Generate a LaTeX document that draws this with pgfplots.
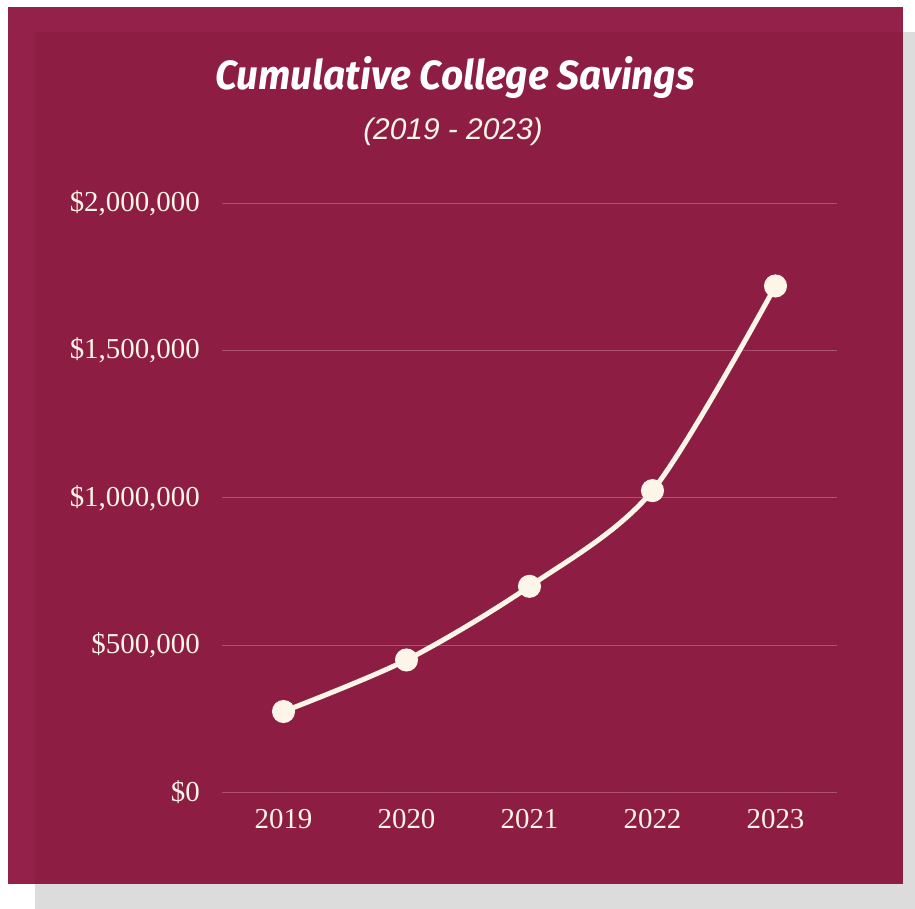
\documentclass[border=0pt]{standalone}
\usepackage{fontspec}
\setmainfont{Liberation Serif}
\newfontfamily\subfont{Liberation Sans}
\newfontfamily\titlefont{Fira Sans}
\usepackage{graphicx}
\usepackage{pgfplots}
\pgfplotsset{compat=1.18}

\definecolor{outerbg}{RGB}{147,33,73}
\definecolor{innerbg}{RGB}{141,29,67}
\definecolor{shadowgray}{RGB}{220,220,220}
\definecolor{cream}{RGB}{253,245,232}
\definecolor{gridc}{RGB}{170,82,114}

\begin{document}
\begin{tikzpicture}
% page, card shadow and card
\fill[white] (0bp,0bp) rectangle (915bp,909bp);
\fill[shadowgray] (35bp,0bp) rectangle (915bp,877bp);
\fill[outerbg] (8bp,25bp) rectangle (903bp,902bp);
\fill[innerbg] (35bp,25bp) rectangle (903bp,877bp);

% title and subtitle
\node[anchor=base, inner sep=0, text=white] at (455bp,819bp)
  {\resizebox{479bp}{33bp}{\titlefont\bfseries\itshape\fontsize{40}{46}\selectfont Cumulative College Savings}};
\node[anchor=base, inner sep=0, text=cream] at (453bp,769bp)
  {\subfont\itshape\fontsize{30}{34}\selectfont (2019 - 2023)};

\begin{axis}[
  at={(222bp,116.5bp)}, anchor=south west,
  scale only axis, width=615bp, height=589bp,
  xmin=-0.5, xmax=4.5, ymin=0, ymax=2000000,
  xtick={0,1,2,3,4},
  xticklabels={2019,2020,2021,2022,2023},
  ytick={0,500000,1000000,1500000,2000000},
  yticklabels={{\$0},{\$500,000},{\$1,000,000},{\$1,500,000},{\$2,000,000}},
  scaled y ticks=false,
  ymajorgrids, grid style={color=gridc, line width=1bp},
  axis line style={draw=none},
  major tick length=0, tick style={draw=none},
  ticklabel style={font=\fontsize{29}{34}\selectfont, text=cream, inner sep=0},
  yticklabel style={anchor=east, xshift=-22bp},
  xticklabel style={anchor=north, yshift=-16.5bp},
  clip=false,
]
\addplot[cream, line width=5bp, smooth, mark=*, mark size=9bp,
  mark options={fill=cream, draw=none}]
  coordinates {(0,275000) (1,450000) (2,700000) (3,1025000) (4,1720000)};
\end{axis}
\end{tikzpicture}
\end{document}
